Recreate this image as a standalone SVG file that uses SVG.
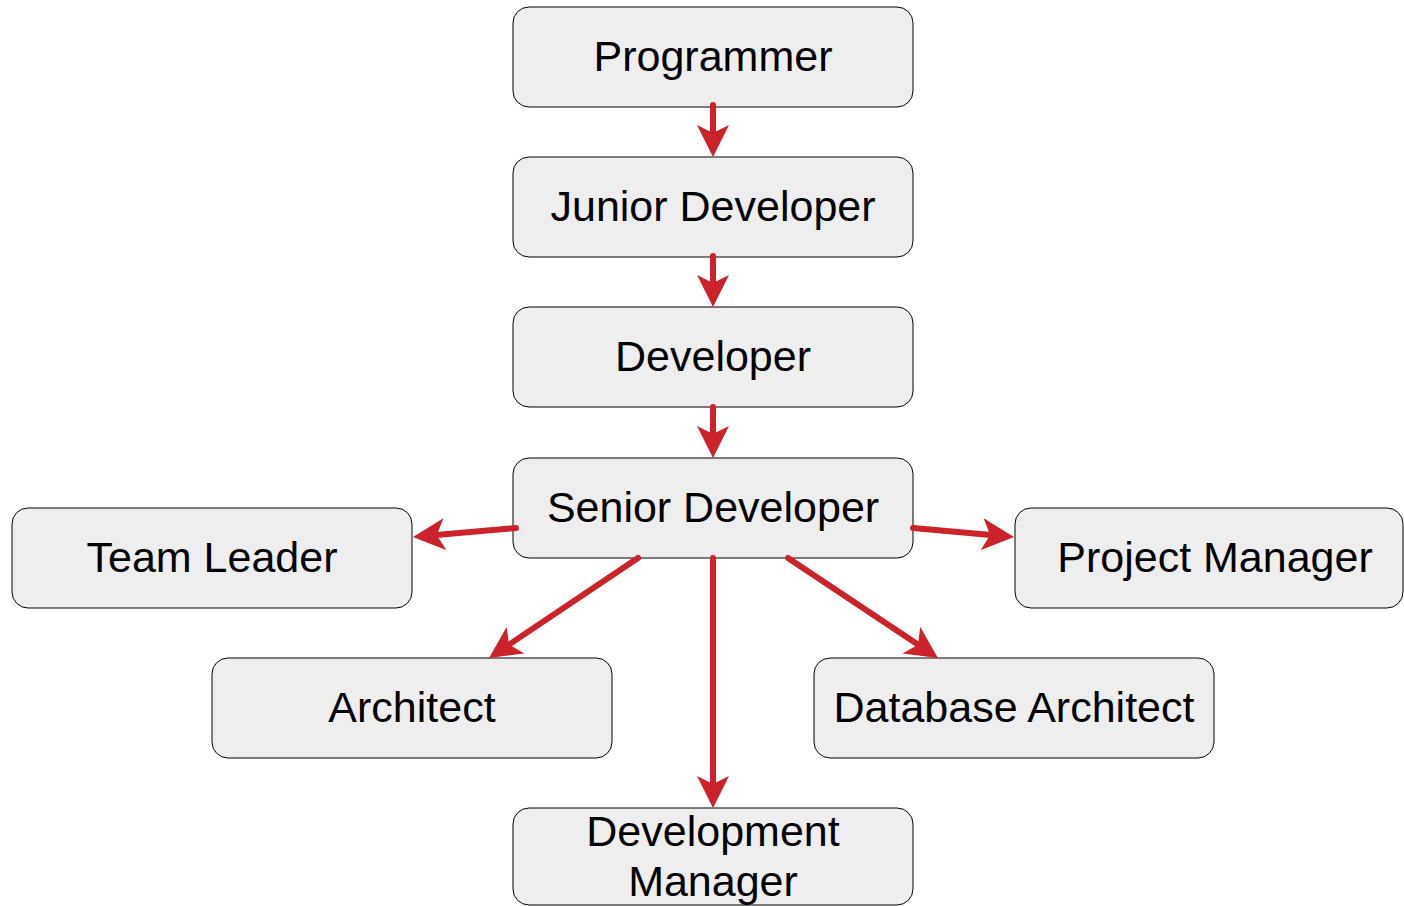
<svg xmlns="http://www.w3.org/2000/svg" width="1404" height="906" viewBox="0 0 1404 906">
<style>
.box{fill:#eeeeee;stroke:#000;stroke-width:1}
.lbl{font-family:"Liberation Sans",Arial,sans-serif;font-size:43px;fill:#000;text-anchor:middle}
.edge{stroke:#cc2229;stroke-width:6;stroke-linecap:round;fill:none;marker-end:url(#arr)}
</style>
<defs>
<marker id="arr" markerUnits="userSpaceOnUse" markerWidth="32" markerHeight="32" viewBox="0 0 32 32" refX="20" refY="16" orient="auto">
<path d="M0,0 L32,16 L0,32 L8,16 Z" fill="#cc2229"/>
</marker>
</defs>
<rect width="1404" height="906" fill="#fff"/>
<g id="programmer"><rect class="box" x="513" y="7" width="400" height="100" rx="16"/><text class="lbl" x="713" y="71">Programmer</text></g>
<g id="junior-developer"><rect class="box" x="513" y="157" width="400" height="100" rx="16"/><text class="lbl" x="713" y="221">Junior Developer</text></g>
<g id="developer"><rect class="box" x="513" y="307" width="400" height="100" rx="16"/><text class="lbl" x="713" y="371">Developer</text></g>
<g id="senior-developer"><rect class="box" x="513" y="458" width="400" height="100" rx="16"/><text class="lbl" x="713" y="522">Senior Developer</text></g>
<g id="team-leader"><rect class="box" x="12" y="508" width="400" height="100" rx="16"/><text class="lbl" x="212" y="572">Team Leader</text></g>
<g id="project-manager"><rect class="box" x="1015" y="508" width="388" height="100" rx="16"/><text class="lbl" x="1215" y="572">Project Manager</text></g>
<g id="architect"><rect class="box" x="212" y="658" width="400" height="100" rx="16"/><text class="lbl" x="412" y="722">Architect</text></g>
<g id="database-architect"><rect class="box" x="814" y="658" width="400" height="100" rx="16"/><text class="lbl" x="1014" y="722">Database Architect</text></g>
<g id="development-manager"><rect class="box" x="513" y="808" width="400" height="97" rx="16"/><text class="lbl" x="713" y="846">Development</text><text class="lbl" x="713" y="896">Manager</text></g>
<g id="connectors">
<line class="edge" x1="713" y1="105" x2="713" y2="145"/>
<line class="edge" x1="713" y1="256" x2="713" y2="295"/>
<line class="edge" x1="713" y1="407" x2="713" y2="446"/>
<line class="edge" x1="516" y1="528" x2="424.9" y2="536"/>
<line class="edge" x1="638" y1="558" x2="499" y2="651.3"/>
<line class="edge" x1="713" y1="558" x2="713" y2="796"/>
<line class="edge" x1="788" y1="558" x2="928" y2="651.3"/>
<line class="edge" x1="913" y1="528" x2="1002.1" y2="536"/>
</g>
</svg>
